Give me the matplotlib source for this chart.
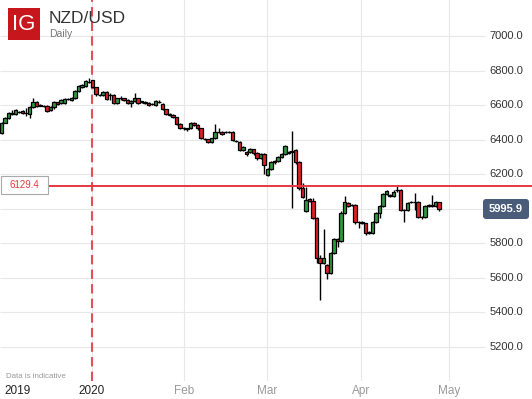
import matplotlib
matplotlib.use('Agg')
import matplotlib.pyplot as plt
from matplotlib.patches import FancyBboxPatch
from matplotlib.transforms import IdentityTransform

plt.rcParams['font.family'] = ['Liberation Sans', 'DejaVu Sans']

# daily candles, NZD/USD (x10000), early Dec 2019 -> end Apr 2020
opens = [6439, 6498, 6525, 6549, 6549, 6561, 6564, 6556, 6547, 6587,
         6620, 6597, 6595, 6595, 6572, 6587, 6616, 6610, 6612, 6635,
         6631, 6643, 6680, 6703, 6711, 6735, 6745, 6703, 6660, 6657,
         6676, 6658, 6658, 6611, 6639, 6639, 6630, 6611, 6624, 6639,
         6620, 6620, 6614, 6606, 6599, 6618, 6607, 6576, 6545, 6543,
         6530, 6491, 6466, 6466, 6466, 6495, 6485, 6466, 6402, 6402,
         6388, 6408, 6446, 6446, 6443, 6446, 6443, 6392, 6388, 6340,
         6327, 6327, 6344, 6321, 6292, 6316, 6196, 6230, 6269, 6277,
         6302, 6316, 6325, 6334, 6340, 6269, 6119, 5987, 6057, 6045,
         5948, 5713, 5684, 5675, 5627, 5742, 5823, 5812, 5977, 6032,
         6022, 6022, 5925, 5925, 5916, 5862, 5862, 5925, 5974, 6016,
         6086, 6076, 6074, 6109, 6109, 5993, 5993, 6039, 6041, 6041,
         5954, 5954, 6018, 6018, 6018, 6038]
closes = [6497, 6525, 6553, 6556, 6572, 6563, 6553, 6557, 6587, 6620,
          6595, 6598, 6596, 6568, 6587, 6616, 6605, 6630, 6637, 6636,
          6643, 6680, 6711, 6715, 6740, 6736, 6703, 6664, 6661, 6676,
          6634, 6659, 6611, 6639, 6640, 6630, 6611, 6624, 6639, 6614,
          6621, 6611, 6599, 6607, 6622, 6619, 6576, 6549, 6546, 6533,
          6491, 6466, 6467, 6460, 6495, 6485, 6466, 6408, 6403, 6388,
          6408, 6446, 6447, 6435, 6444, 6447, 6396, 6393, 6340, 6356,
          6316, 6344, 6321, 6292, 6316, 6253, 6230, 6273, 6277, 6302,
          6316, 6362, 6326, 6327, 6269, 6119, 6070, 6051, 6045, 5948,
          5713, 5684, 5713, 5627, 5742, 5823, 5812, 5977, 6041, 6018,
          6023, 5925, 5926, 5916, 5858, 5863, 5925, 5974, 6016, 6086,
          6105, 6077, 6099, 6110, 5993, 5994, 6035, 6040, 6042, 5954,
          5955, 6016, 6019, 6019, 6038, 5996]
highs = [6500, 6533, 6558, 6570, 6578, 6568, 6570, 6583, 6592, 6641,
         6624, 6604, 6602, 6600, 6592, 6622, 6620, 6635, 6642, 6641,
         6648, 6685, 6716, 6720, 6745, 6757, 6748, 6706, 6666, 6680,
         6680, 6672, 6662, 6644, 6650, 6644, 6634, 6628, 6668, 6643,
         6626, 6624, 6618, 6612, 6630, 6630, 6610, 6580, 6552, 6548,
         6534, 6495, 6472, 6470, 6502, 6500, 6490, 6470, 6408, 6406,
         6412, 6491, 6468, 6450, 6452, 6452, 6448, 6398, 6392, 6362,
         6332, 6350, 6348, 6326, 6322, 6320, 6236, 6278, 6282, 6306,
         6320, 6370, 6332, 6450, 6345, 6274, 6150, 6128, 6062, 6060,
         5955, 5733, 5883, 5680, 5748, 5830, 5830, 5985, 6074, 6040,
         6030, 6028, 5932, 5930, 5920, 5870, 5930, 5980, 6022, 6092,
         6110, 6085, 6106, 6132, 6114, 6000, 6040, 6046, 6090, 6046,
         5960, 6022, 6025, 6080, 6044, 6042]
lows = [6435, 6494, 6520, 6545, 6545, 6556, 6548, 6537, 6525, 6582,
        6590, 6592, 6590, 6560, 6566, 6580, 6598, 6605, 6606, 6628,
        6626, 6638, 6675, 6698, 6706, 6730, 6698, 6652, 6655, 6650,
        6628, 6630, 6604, 6606, 6632, 6624, 6605, 6591, 6618, 6608,
        6612, 6604, 6592, 6598, 6594, 6612, 6570, 6543, 6538, 6526,
        6484, 6460, 6458, 6452, 6460, 6480, 6458, 6402, 6396, 6382,
        6382, 6404, 6440, 6428, 6436, 6440, 6390, 6386, 6334, 6334,
        6308, 6320, 6314, 6285, 6286, 6200, 6191, 6224, 6262, 6270,
        6296, 6310, 6318, 6003, 6262, 6110, 6065, 5980, 6040, 5940,
        5686, 5472, 5678, 5592, 5620, 5736, 5780, 5805, 5970, 6010,
        6015, 5910, 5889, 5910, 5850, 5855, 5856, 5919, 5945, 6010,
        6080, 6068, 6068, 6100, 5986, 5925, 5986, 6032, 5993, 5948,
        5940, 5948, 6010, 6012, 6012, 5990]

# x axis: candle index; month starts as fractional candle positions
month_labels = ['2019', '2020', 'Feb', 'Mar', 'Apr', 'May']
month_pos = [4.7, 25.86, 52.14, 75.94, 102.63, 127.86]
grid_prices = [5200, 5400, 5600, 5800, 6000, 6200, 6400, 6600, 6800, 7000]
level = 6129.4
last_price = 5995.9

W, H = 532, 399
fig = plt.figure(figsize=(W / 100, H / 100), dpi=100)
ax = fig.add_axes([0, (H - 381) / H, 1, 381 / H])
ax.set_xlim(-0.43, 151.57)
ax.set_ylim(5003.2, 7208.4)
ax.axis('off')

# grid
ax.hlines(grid_prices, -0.43, (485 - 1.5) / 3.5, color='#e8e8e8', lw=0.8, zorder=0)
for p in month_pos[1:]:
	ax.axvline(p, color='#e8e8e8', lw=0.8, zorder=0)
ax.axvline(month_pos[1], color='#e4505a', lw=1.5, ls=(0, (4.5, 2.5)), zorder=1)

# candles
xs = list(range(len(opens)))
bottoms = [min(o, c) for o, c in zip(opens, closes)]
heights = [abs(c - o) for o, c in zip(opens, closes)]
colors = ['#2f9a3c' if c > o else '#e31f26' for o, c in zip(opens, closes)]
ax.vlines(xs, lows, highs, colors='black', lw=1.0, zorder=2)
ax.bar(xs, heights, bottom=bottoms, width=0.9, color=colors,
       edgecolor='black', linewidth=0.9, zorder=3)

# horizontal level line
ax.axhline(level, xmin=48 / W, xmax=1, color='#e5383f', lw=1.4, zorder=5)

# y labels on the right
for p in grid_prices:
	if p == 6000:
		continue
	ax.text(523 / W, p, f'{p:.1f}', transform=ax.get_yaxis_transform(),
	        ha='right', va='center', fontsize=8, color='#333333')

# x labels
for p, lab in zip(month_pos, month_labels):
	col = '#222222' if lab in ('2019', '2020') else '#9a9a9a'
	ax.text(p, -0.025, lab, transform=ax.get_xaxis_transform(),
	        ha='center', va='center', fontsize=8.5, color=col, clip_on=False)


def px_box(x, y, w, h, **kw):
	# pixel box, y measured from the top of the image
	kw.setdefault('boxstyle', 'square,pad=0')
	patch = FancyBboxPatch((x, H - y - h), w, h, transform=IdentityTransform(), **kw)
	fig.add_artist(patch)
	return patch


# level tag on the left
px_box(0.5, 176, 47.5, 18, fc='white', ec='#aaaaaa', lw=0.8, zorder=6)
fig.text(24 / W, 1 - 185.5 / H, f'{level:.1f}', ha='center', va='center',
         fontsize=7, color='#e5383f', zorder=8)

# last price tag
px_box(483, 199, 46, 20, boxstyle='round,pad=0,rounding_size=3',
       fc='#4b5b7a', ec='none', zorder=6)
fig.text(506 / W, 1 - 209.5 / H, f'{last_price:.1f}', ha='center', va='center',
         fontsize=8, color='white', fontweight='bold', zorder=8)

# logo and title
px_box(8, 8, 32, 32, fc='#c8161d', ec='none', zorder=6)
fig.text(24 / W, 1 - 24.5 / H, 'IG', ha='center', va='center', fontsize=16,
         color='white', zorder=8)
fig.text(49 / W, 1 - 22.7 / H, 'NZD/USD', ha='left', va='baseline', fontsize=12.5, color='#333333')
fig.text(49 / W, 1 - 36.8 / H, 'Daily', ha='left', va='baseline', fontsize=7.5, color='#777777')
fig.text(5.8 / W, 1 - 378 / H, 'Data is indicative', ha='left', va='baseline', fontsize=5.7, color='#999999')

fig.savefig('out.png', dpi=100)
